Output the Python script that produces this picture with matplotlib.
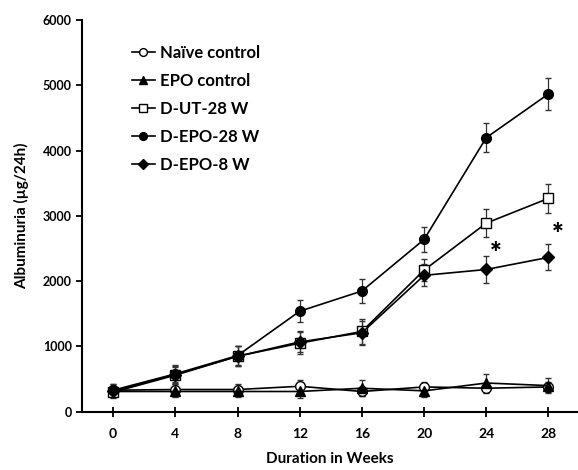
import matplotlib.pyplot as plt

plt.rc('font', family=['Lato', 'DejaVu Sans'], weight='bold', size=9)
plt.rc('axes', labelweight='bold')

weeks = [0, 4, 8, 12, 16, 20, 24, 28]

naive = [330, 340, 340, 390, 310, 380, 360, 380]
naive_err = [90, 80, 80, 90, 70, 80, 70, 80]
epo = [310, 310, 310, 310, 360, 320, 440, 400]
epo_err = [80, 80, 80, 100, 120, 100, 140, 120]
dut = [300, 560, 850, 1050, 1230, 2170, 2890, 3270]
dut_err = [90, 130, 150, 170, 190, 170, 220, 220]
depo28 = [330, 580, 860, 1540, 1850, 2640, 4200, 4870]
depo28_err = [100, 130, 150, 170, 190, 190, 220, 250]
depo8 = [310, 570, 850, 1070, 1210, 2090, 2180, 2365]
depo8_err = [90, 130, 150, 160, 180, 170, 200, 200]

star_x = [24.6, 28.6]
star_y = [2420, 2710]

fig = plt.figure(figsize=(5.78, 4.70), dpi=100)
ax = fig.add_axes([0.142, 0.124, 0.858, 0.833])

series = [
    ('Naïve control', naive, naive_err, 'o', 'white'),
    ('EPO control', epo, epo_err, '^', 'black'),
    ('D-UT-28 W', dut, dut_err, 's', 'white'),
    ('D-EPO-28 W', depo28, depo28_err, 'o', 'black'),
    ('D-EPO-8 W', depo8, depo8_err, 'D', 'black'),
]

for label, vals, err, mk, fc in series:
    ms = 6 if mk == 'D' else 7
    ax.errorbar(weeks, vals, yerr=err, color='black', lw=1.2, marker=mk,
                ms=ms, mfc=fc, mec='black', mew=1.0, ecolor='#333333',
                elinewidth=0.9, capsize=2, capthick=0.9, label=label)

for sx, sy in zip(star_x, star_y):
    ax.text(sx, sy, '*', fontsize=20, fontweight='heavy', ha='center', va='center')

ax.set_xlim(-2.0, 29.9)
ax.set_ylim(0, 6000)
ax.set_xticks(weeks, labels=[str(w) for w in weeks], fontweight='bold', fontsize=10)
yt = list(range(0, 6001, 1000))
ax.set_yticks(yt, labels=[str(v) for v in yt], fontweight='bold', fontsize=9)
ax.spines['top'].set_visible(False)
ax.spines['right'].set_visible(False)
ax.spines['left'].set_linewidth(1.5)
ax.spines['bottom'].set_linewidth(1.5)
ax.tick_params(axis='x', direction='inout', length=7, width=1.3, pad=8)
ax.tick_params(axis='y', direction='out', length=4, width=1.3)

ax.set_xlabel('Duration in Weeks', fontsize=11, fontweight='bold', labelpad=9)
ax.set_ylabel('Albuminuria (µg/24h)', fontsize=11, fontweight='bold', labelpad=10)

handles, labels = ax.get_legend_handles_labels()
handles = [h[0] for h in handles]
leg = ax.legend(handles, labels, loc='upper left', bbox_to_anchor=(0.07, 0.975),
                frameon=False, fontsize=12, handlelength=1.4, handletextpad=0.3,
                labelspacing=0.72, markerscale=0.8)
for t in leg.get_texts():
    t.set_fontweight('bold')

plt.savefig('out.png', dpi=100)
